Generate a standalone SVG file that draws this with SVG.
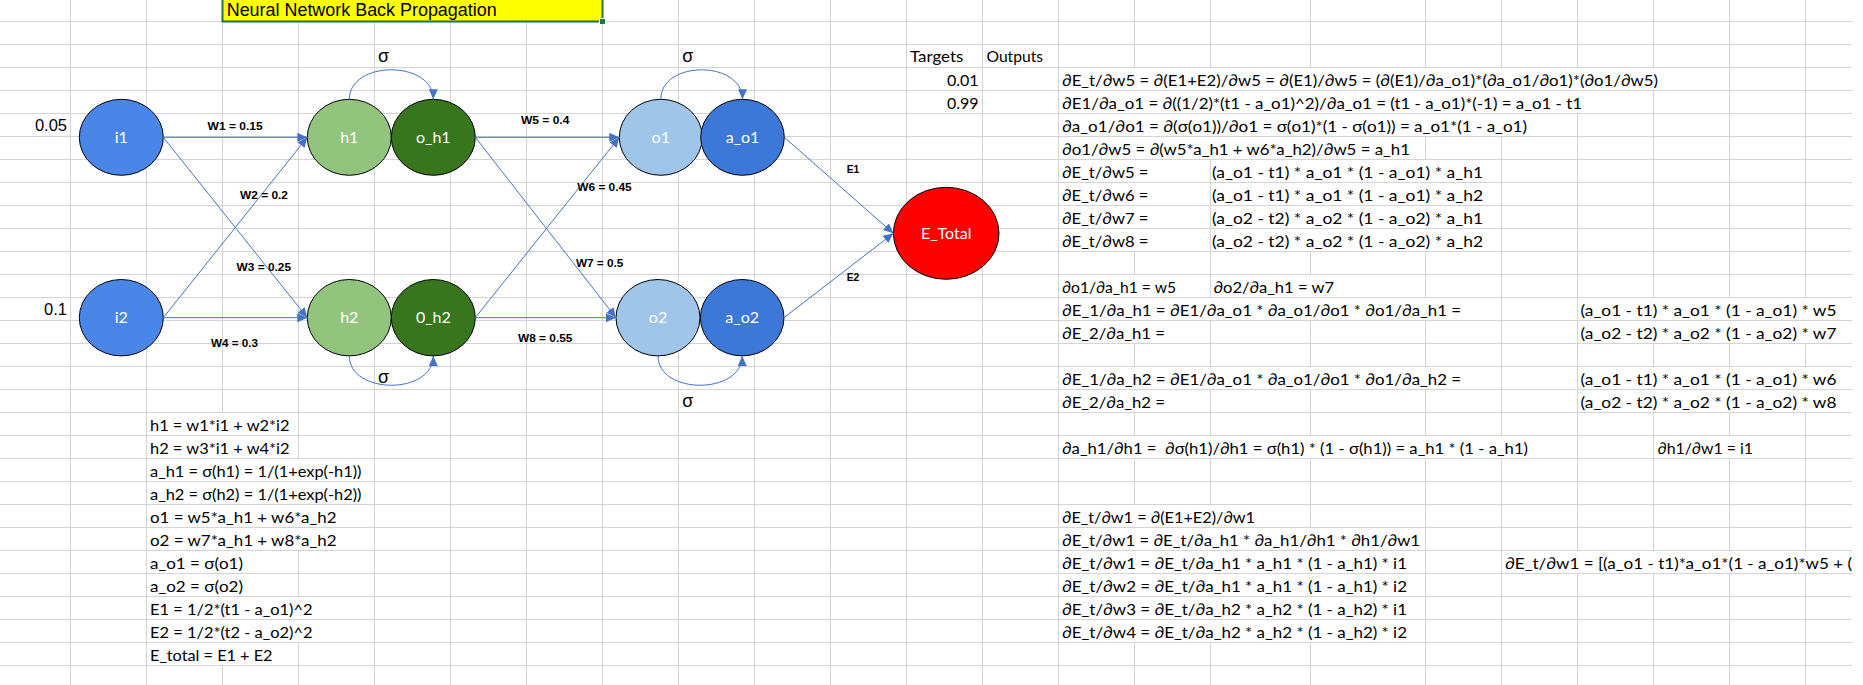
<svg xmlns="http://www.w3.org/2000/svg" width="1863" height="685" viewBox="0 0 1863 685">
  <defs>
    <style>
      .grid { stroke: #d4d4d4; stroke-width: 1; fill: none; }
      .blank { fill: #ffffff; }
      .cell { font-family: Lato, "Liberation Sans", "DejaVu Sans", sans-serif; font-size: 16px; fill: #000000; }
      .num { font-family: "Liberation Sans", Arial, sans-serif; font-size: 16.5px; fill: #000000; }
      .title { font-family: "Liberation Sans", Arial, sans-serif; font-size: 17.5px; fill: #000000; }
      .wl { font-family: "Liberation Sans", Arial, sans-serif; font-size: 11.5px; font-weight: bold; fill: #000000; }
      .sig { font-family: "Liberation Sans", "DejaVu Sans", sans-serif; font-size: 18px; fill: #000000; text-anchor: middle; }
      .node ellipse { stroke: #000000; stroke-width: 1; }
      .node text { font-family: Lato, "Liberation Sans", sans-serif; font-size: 16px; fill: #ffffff; text-anchor: middle; }
      .conn { stroke: #4472C4; stroke-width: 1; fill: none; marker-end: url(#arrow); }
    </style>
    <marker id="arrow" markerUnits="userSpaceOnUse" markerWidth="11" markerHeight="10" refX="10" refY="4.5" orient="auto">
      <path d="M0,0 L10,4.5 L0,9 z" fill="#4472C4"/>
    </marker>
    <clipPath id="sheet">
      <rect x="0" y="0" width="1852" height="685"/>
    </clipPath>
  </defs>

  <rect x="0" y="0" width="1863" height="685" fill="#ffffff"/>

  <g clip-path="url(#sheet)">
    <!-- worksheet gridlines -->
    <path class="grid" d="
      M0,21.5H1852 M0,44.5H1852 M0,67.5H1852 M0,90.5H1852 M0,113.5H1852 M0,136.5H1852 M0,159.5H1852 M0,182.5H1852
      M0,205.5H1852 M0,228.5H1852 M0,251.5H1852 M0,274.5H1852 M0,297.5H1852 M0,320.5H1852 M0,343.5H1852 M0,366.5H1852
      M0,389.5H1852 M0,412.5H1852 M0,435.5H1852 M0,458.5H1852 M0,481.5H1852 M0,504.5H1852 M0,527.5H1852 M0,550.5H1852
      M0,573.5H1852 M0,596.5H1852 M0,619.5H1852 M0,642.5H1852 M0,665.5H1852
      M70.5,0V685 M146.5,0V685 M222.5,0V685 M298.5,0V685 M374.5,0V685 M450.5,0V685 M526.5,0V685 M602.5,0V685
      M678.5,0V685 M754.5,0V685 M830.5,0V685 M906.5,0V685 M982.5,0V685 M1058.5,0V685 M1134.5,0V685 M1210.5,0V685
      M1310.5,0V685 M1425.5,0V685 M1501.5,0V685 M1577.5,0V685 M1653.5,0V685 M1729.5,0V685 M1805.5,0V685"/>

    <!-- overflowing text hides the inner cell borders -->
    <g class="blank">
      <rect x="147" y="413" width="151" height="22"/>
      <rect x="147" y="436" width="151" height="22"/>
      <rect x="147" y="459" width="227" height="22"/>
      <rect x="147" y="482" width="227" height="22"/>
      <rect x="147" y="505" width="227" height="22"/>
      <rect x="147" y="528" width="227" height="22"/>
      <rect x="147" y="551" width="151" height="22"/>
      <rect x="147" y="574" width="151" height="22"/>
      <rect x="147" y="597" width="227" height="22"/>
      <rect x="147" y="620" width="227" height="22"/>
      <rect x="147" y="643" width="151" height="22"/>

      <rect x="1059" y="68" width="670" height="22"/>
      <rect x="1059" y="91" width="594" height="22"/>
      <rect x="1059" y="114" width="518" height="22"/>
      <rect x="1059" y="137" width="366" height="22"/>
      <rect x="1059" y="160" width="151" height="22"/>
      <rect x="1211" y="160" width="290" height="22"/>
      <rect x="1059" y="183" width="151" height="22"/>
      <rect x="1211" y="183" width="290" height="22"/>
      <rect x="1059" y="206" width="151" height="22"/>
      <rect x="1211" y="206" width="290" height="22"/>
      <rect x="1059" y="229" width="151" height="22"/>
      <rect x="1211" y="229" width="290" height="22"/>
      <rect x="1059" y="275" width="151" height="22"/>
      <rect x="1211" y="275" width="214" height="22"/>
      <rect x="1059" y="298" width="442" height="22"/>
      <rect x="1578" y="298" width="274" height="22"/>
      <rect x="1059" y="321" width="151" height="22"/>
      <rect x="1578" y="321" width="274" height="22"/>
      <rect x="1059" y="367" width="442" height="22"/>
      <rect x="1578" y="367" width="274" height="22"/>
      <rect x="1059" y="390" width="151" height="22"/>
      <rect x="1578" y="390" width="274" height="22"/>
      <rect x="1059" y="436" width="518" height="22"/>
      <rect x="1654" y="436" width="151" height="22"/>
      <rect x="1059" y="505" width="251" height="22"/>
      <rect x="1059" y="528" width="366" height="22"/>
      <rect x="1059" y="551" width="366" height="22"/>
      <rect x="1502" y="551" width="350" height="22"/>
      <rect x="1059" y="574" width="366" height="22"/>
      <rect x="1059" y="597" width="366" height="22"/>
      <rect x="1059" y="620" width="366" height="22"/>
    </g>

    <!-- title cell -->
    <g id="title">
      <rect x="222" y="0" width="381" height="22" fill="#ffff00"/>
      <path d="M222.5,-2V21.5H602.5V-2" fill="none" stroke="#217346" stroke-width="2"/>
      <rect x="599.5" y="18.5" width="6" height="6" fill="#217346" stroke="#ffffff" stroke-width="1"/>
      <text class="title" x="226.7" y="16" textLength="270" lengthAdjust="spacingAndGlyphs">Neural Network Back Propagation</text>
    </g>

    <!-- input values -->
    <text class="num" x="67" y="131" text-anchor="end">0.05</text>
    <text class="num" x="67" y="314.5" text-anchor="end">0.1</text>

    <!-- targets / outputs -->
    <text class="cell" x="910" y="62" textLength="53.3" lengthAdjust="spacingAndGlyphs">Targets</text>
    <text class="cell" x="986.5" y="62" textLength="56.5" lengthAdjust="spacingAndGlyphs">Outputs</text>
    <text class="cell" x="978.5" y="85.5" text-anchor="end">0.01</text>
    <text class="cell" x="978.5" y="108.5" text-anchor="end">0.99</text>

    <!-- forward pass formulas -->
    <g id="forward">
      <text class="cell" x="150" y="430.5" textLength="139.5" lengthAdjust="spacingAndGlyphs">h1 = w1*i1 + w2*i2</text>
      <text class="cell" x="150" y="453.5" textLength="139.5" lengthAdjust="spacingAndGlyphs">h2 = w3*i1 + w4*i2</text>
      <text class="cell" x="150" y="476.5" textLength="211.5" lengthAdjust="spacingAndGlyphs">a_h1 = σ(h1) = 1/(1+exp(-h1))</text>
      <text class="cell" x="150" y="499.5" textLength="211.5" lengthAdjust="spacingAndGlyphs">a_h2 = σ(h2) = 1/(1+exp(-h2))</text>
      <text class="cell" x="150" y="522.5" textLength="186.5" lengthAdjust="spacingAndGlyphs">o1 = w5*a_h1 + w6*a_h2</text>
      <text class="cell" x="150" y="545.5" textLength="186.5" lengthAdjust="spacingAndGlyphs">o2 = w7*a_h1 + w8*a_h2</text>
      <text class="cell" x="150" y="568.5" textLength="93" lengthAdjust="spacingAndGlyphs">a_o1 = σ(o1)</text>
      <text class="cell" x="150" y="591.5" textLength="93" lengthAdjust="spacingAndGlyphs">a_o2 = σ(o2)</text>
      <text class="cell" x="150" y="614.5" textLength="162.5" lengthAdjust="spacingAndGlyphs">E1 = 1/2*(t1 - a_o1)^2</text>
      <text class="cell" x="150" y="637.5" textLength="162.5" lengthAdjust="spacingAndGlyphs">E2 = 1/2*(t2 - a_o2)^2</text>
      <text class="cell" x="150" y="660.5" textLength="122.5" lengthAdjust="spacingAndGlyphs">E_total = E1 + E2</text>
    </g>

    <!-- backward pass formulas -->
    <g id="backward">
      <text class="cell" x="1062" y="85.5" textLength="596" lengthAdjust="spacingAndGlyphs">∂E_t/∂w5 = ∂(E1+E2)/∂w5 = ∂(E1)/∂w5 = (∂(E1)/∂a_o1)*(∂a_o1/∂o1)*(∂o1/∂w5)</text>
      <text class="cell" x="1062" y="108.5" textLength="520" lengthAdjust="spacingAndGlyphs">∂E1/∂a_o1 = ∂((1/2)*(t1 - a_o1)^2)/∂a_o1 = (t1 - a_o1)*(-1) = a_o1 - t1</text>
      <text class="cell" x="1062" y="131.5" textLength="465" lengthAdjust="spacingAndGlyphs">∂a_o1/∂o1 = ∂(σ(o1))/∂o1 = σ(o1)*(1 - σ(o1)) = a_o1*(1 - a_o1)</text>
      <text class="cell" x="1062" y="154.5" textLength="348" lengthAdjust="spacingAndGlyphs">∂o1/∂w5 = ∂(w5*a_h1 + w6*a_h2)/∂w5 = a_h1</text>

      <text class="cell" x="1062" y="177.5" textLength="86.5" lengthAdjust="spacingAndGlyphs">∂E_t/∂w5 =</text>
      <text class="cell" x="1212" y="177.5" textLength="271" lengthAdjust="spacingAndGlyphs">(a_o1 - t1) * a_o1 * (1 - a_o1) * a_h1</text>
      <text class="cell" x="1062" y="200.5" textLength="86.5" lengthAdjust="spacingAndGlyphs">∂E_t/∂w6 =</text>
      <text class="cell" x="1212" y="200.5" textLength="271" lengthAdjust="spacingAndGlyphs">(a_o1 - t1) * a_o1 * (1 - a_o1) * a_h2</text>
      <text class="cell" x="1062" y="223.5" textLength="86.5" lengthAdjust="spacingAndGlyphs">∂E_t/∂w7 =</text>
      <text class="cell" x="1212" y="223.5" textLength="271" lengthAdjust="spacingAndGlyphs">(a_o2 - t2) * a_o2 * (1 - a_o2) * a_h1</text>
      <text class="cell" x="1062" y="246.5" textLength="86.5" lengthAdjust="spacingAndGlyphs">∂E_t/∂w8 =</text>
      <text class="cell" x="1212" y="246.5" textLength="271" lengthAdjust="spacingAndGlyphs">(a_o2 - t2) * a_o2 * (1 - a_o2) * a_h2</text>

      <text class="cell" x="1062" y="292.5" textLength="114" lengthAdjust="spacingAndGlyphs">∂o1/∂a_h1 = w5</text>
      <text class="cell" x="1213.5" y="292.5" textLength="120.5" lengthAdjust="spacingAndGlyphs">∂o2/∂a_h1 = w7</text>
      <text class="cell" x="1062" y="315.5" textLength="399" lengthAdjust="spacingAndGlyphs">∂E_1/∂a_h1 = ∂E1/∂a_o1 * ∂a_o1/∂o1 * ∂o1/∂a_h1 =</text>
      <text class="cell" x="1580.5" y="315.5" textLength="256" lengthAdjust="spacingAndGlyphs">(a_o1 - t1) * a_o1 * (1 - a_o1) * w5</text>
      <text class="cell" x="1062" y="338.5" textLength="103" lengthAdjust="spacingAndGlyphs">∂E_2/∂a_h1 =</text>
      <text class="cell" x="1580.5" y="338.5" textLength="256" lengthAdjust="spacingAndGlyphs">(a_o2 - t2) * a_o2 * (1 - a_o2) * w7</text>

      <text class="cell" x="1062" y="384.5" textLength="399" lengthAdjust="spacingAndGlyphs">∂E_1/∂a_h2 = ∂E1/∂a_o1 * ∂a_o1/∂o1 * ∂o1/∂a_h2 =</text>
      <text class="cell" x="1580.5" y="384.5" textLength="256" lengthAdjust="spacingAndGlyphs">(a_o1 - t1) * a_o1 * (1 - a_o1) * w6</text>
      <text class="cell" x="1062" y="407.5" textLength="103" lengthAdjust="spacingAndGlyphs">∂E_2/∂a_h2 =</text>
      <text class="cell" x="1580.5" y="407.5" textLength="256" lengthAdjust="spacingAndGlyphs">(a_o2 - t2) * a_o2 * (1 - a_o2) * w8</text>

      <text class="cell" x="1062" y="453.5" textLength="466" lengthAdjust="spacingAndGlyphs" xml:space="preserve">∂a_h1/∂h1 =  ∂σ(h1)/∂h1 = σ(h1) * (1 - σ(h1)) = a_h1 * (1 - a_h1)</text>
      <text class="cell" x="1657.5" y="453.5" textLength="95.5" lengthAdjust="spacingAndGlyphs">∂h1/∂w1 = i1</text>

      <text class="cell" x="1062" y="522.5" textLength="193" lengthAdjust="spacingAndGlyphs">∂E_t/∂w1 = ∂(E1+E2)/∂w1</text>
      <text class="cell" x="1062" y="545.5" textLength="358" lengthAdjust="spacingAndGlyphs">∂E_t/∂w1 = ∂E_t/∂a_h1 * ∂a_h1/∂h1 * ∂h1/∂w1</text>
      <text class="cell" x="1062" y="568.5" textLength="345" lengthAdjust="spacingAndGlyphs">∂E_t/∂w1 = ∂E_t/∂a_h1 * a_h1 * (1 - a_h1) * i1</text>
      <text class="cell" x="1505" y="568.5" textLength="347" lengthAdjust="spacingAndGlyphs">∂E_t/∂w1 = [(a_o1 - t1)*a_o1*(1 - a_o1)*w5 + (</text>
      <text class="cell" x="1062" y="591.5" textLength="345" lengthAdjust="spacingAndGlyphs">∂E_t/∂w2 = ∂E_t/∂a_h1 * a_h1 * (1 - a_h1) * i2</text>
      <text class="cell" x="1062" y="614.5" textLength="345" lengthAdjust="spacingAndGlyphs">∂E_t/∂w3 = ∂E_t/∂a_h2 * a_h2 * (1 - a_h2) * i1</text>
      <text class="cell" x="1062" y="637.5" textLength="345" lengthAdjust="spacingAndGlyphs">∂E_t/∂w4 = ∂E_t/∂a_h2 * a_h2 * (1 - a_h2) * i2</text>
    </g>
  </g>

  <!-- network nodes -->
  <g id="i1" class="node"><ellipse cx="121.3" cy="137.3" rx="42" ry="38" fill="#4A86E8"/><text x="121.3" y="143">i1</text></g>
  <g id="i2" class="node"><ellipse cx="121.3" cy="317.7" rx="42" ry="38.2" fill="#4A86E8"/><text x="121.3" y="323.4">i2</text></g>
  <g id="h1" class="node"><ellipse cx="349.3" cy="137.3" rx="42" ry="38" fill="#93C47D"/><text x="349.3" y="143">h1</text></g>
  <g id="o_h1" class="node"><ellipse cx="433.3" cy="137.3" rx="42" ry="38" fill="#38761D"/><text x="433.3" y="143">o_h1</text></g>
  <g id="h2" class="node"><ellipse cx="349.3" cy="317.7" rx="42" ry="38.2" fill="#93C47D"/><text x="349.3" y="323.4">h2</text></g>
  <g id="o_h2" class="node"><ellipse cx="433.3" cy="317.7" rx="42" ry="38.2" fill="#38761D"/><text x="433.3" y="323.4">0_h2</text></g>
  <g id="o1" class="node"><ellipse cx="660.8" cy="137.3" rx="41.5" ry="38" fill="#9FC5E8"/><text x="660.8" y="143">o1</text></g>
  <g id="a_o1" class="node"><ellipse cx="742.5" cy="137.3" rx="41.8" ry="38" fill="#3C78D8"/><text x="742.5" y="143">a_o1</text></g>
  <g id="o2" class="node"><ellipse cx="658" cy="317.7" rx="42" ry="38.2" fill="#9FC5E8"/><text x="658" y="323.4">o2</text></g>
  <g id="a_o2" class="node"><ellipse cx="742.2" cy="317.7" rx="41.8" ry="38.2" fill="#3C78D8"/><text x="742.2" y="323.4">a_o2</text></g>
  <g id="E_Total" class="node"><ellipse cx="946.2" cy="233.3" rx="52.8" ry="46" fill="#FF0000"/><text x="946.2" y="238.8">E_Total</text></g>

  <!-- connectors -->
  <g id="connectors">
    <path class="conn" d="M163.3,137.3 L307.3,137.3"/>
    <path class="conn" d="M163.3,137.3 L307.3,317.7"/>
    <path class="conn" d="M163.3,317.7 L307.3,137.3"/>
    <path class="conn" d="M163.3,317.7 L307.3,317.7"/>
    <path class="conn" d="M475.3,137.3 L619.3,137.3"/>
    <path class="conn" d="M475.3,137.3 L616,317.7"/>
    <path class="conn" d="M475.3,317.7 L619.3,137.3"/>
    <path class="conn" d="M475.3,317.7 L616,317.7"/>
    <path class="conn" d="M784.3,137.3 L893.4,233.3"/>
    <path class="conn" d="M784,317.7 L893.4,233.3"/>
    <!-- activation loops -->
    <path class="conn" d="M349.3,99.3 C349.3,60 433.3,60 433.3,99.3"/>
    <path class="conn" d="M660.8,99.3 C660.8,60 742.5,60 742.5,99.3"/>
    <path class="conn" d="M349.3,355.9 C349.3,395 433.3,395 433.3,355.9"/>
    <path class="conn" d="M658,355.9 C658,395 742.2,395 742.2,355.9"/>
  </g>

  <!-- weight and error labels -->
  <g id="labels">
    <text class="wl" x="207.6" y="130" textLength="55" lengthAdjust="spacingAndGlyphs">W1 = 0.15</text>
    <text class="wl" x="240" y="199" textLength="48" lengthAdjust="spacingAndGlyphs">W2 = 0.2</text>
    <text class="wl" x="236.6" y="270.5" textLength="54.4" lengthAdjust="spacingAndGlyphs">W3 = 0.25</text>
    <text class="wl" x="211" y="347.3" textLength="47" lengthAdjust="spacingAndGlyphs">W4 = 0.3</text>
    <text class="wl" x="521" y="124" textLength="48.3" lengthAdjust="spacingAndGlyphs">W5 = 0.4</text>
    <text class="wl" x="577.3" y="191" textLength="54.4" lengthAdjust="spacingAndGlyphs">W6 = 0.45</text>
    <text class="wl" x="576" y="267" textLength="47.3" lengthAdjust="spacingAndGlyphs">W7 = 0.5</text>
    <text class="wl" x="518" y="341.7" textLength="54.4" lengthAdjust="spacingAndGlyphs">W8 = 0.55</text>
    <text class="wl" x="846.7" y="173.3" textLength="12.6" lengthAdjust="spacingAndGlyphs">E1</text>
    <text class="wl" x="846.7" y="281" textLength="12.6" lengthAdjust="spacingAndGlyphs">E2</text>
    <text class="sig" x="383.5" y="62">σ</text>
    <text class="sig" x="687.7" y="62">σ</text>
    <text class="sig" x="383.5" y="383.3">σ</text>
    <text class="sig" x="687.7" y="407">σ</text>
  </g>
</svg>
